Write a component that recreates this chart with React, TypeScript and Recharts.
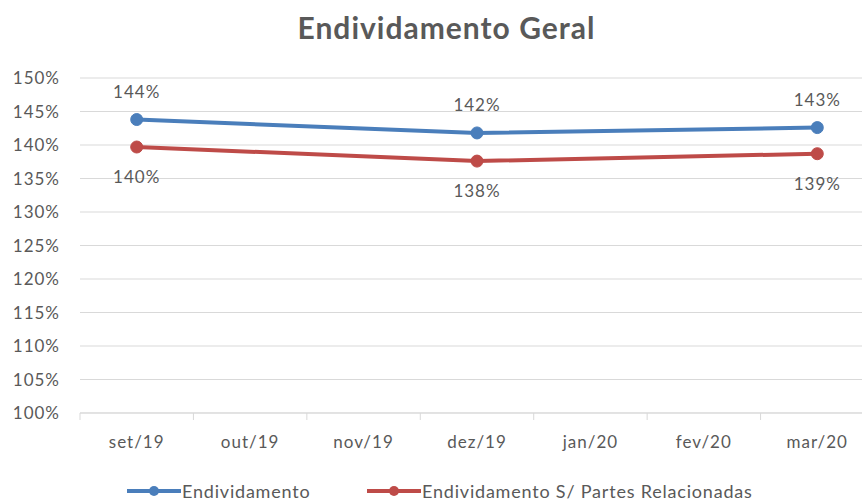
import { LineChart, Line, XAxis, YAxis, CartesianGrid, LabelList } from "recharts";

const months = ["set/19", "out/19", "nov/19", "dez/19", "jan/20", "fev/20", "mar/20"];
const endividamento = [143.8, null, null, 141.8, null, null, 142.6];
const semPartes = [139.7, null, null, 137.6, null, null, 138.7];
const yTicks = [100, 105, 110, 115, 120, 125, 130, 135, 140, 145, 150];

const data = months.map((m, i) => ({
  month: m,
  endividamento: endividamento[i],
  semPartes: semPartes[i],
}));

const BLUE = "#4a7ebb";
const RED = "#be4b48";
const TEXT = "#595959";
const FONT = "Lato, 'Open Sans', sans-serif";

const CHART_W = 874;
const Y_W = 80;
const BAND = (CHART_W - Y_W) / months.length;

const XTick = (props: any) => {
  const { x, y, payload, index } = props;
  return (
    <g>
      <line x1={x - BAND / 2} x2={x - BAND / 2} y1={y - 8} y2={y - 1} stroke="#d9d9d9" />
      {index === months.length - 1 && (
        <line x1={x + BAND / 2} x2={x + BAND / 2} y1={y - 8} y2={y - 1} stroke="#d9d9d9" />
      )}
      <text
        x={x}
        y={y + 27}
        textAnchor="middle"
        fill={TEXT}
        fontSize={17}
        letterSpacing={1}
        fontFamily={FONT}
      >
        {payload.value}
      </text>
    </g>
  );
};

const fmt = (v: any) => (v == null ? "" : Math.round(v) + "%");

const LegendItem = ({ color, label, left }: { color: string; label: string; left: number }) => (
  <div style={{ position: "absolute", left, top: 480, display: "flex", alignItems: "center" }}>
    <svg width={54} height={16}>
      <line x1={0} x2={54} y1={8} y2={8} stroke={color} strokeWidth={4} />
      <circle cx={27} cy={8} r={5} fill={color} />
    </svg>
    <span style={{ color: TEXT, fontSize: 18, letterSpacing: 0.8, marginLeft: 1, fontFamily: FONT }}>
      {label}
    </span>
  </div>
);

export default function App() {
  return (
    <div
      style={{
        position: "absolute",
        left: 0,
        top: 0,
        width: 862,
        height: 504,
        overflow: "hidden",
        background: "#fff",
        fontFamily: FONT,
      }}
    >
      <div
        style={{
          position: "absolute",
          top: 9,
          left: 0,
          width: 893,
          textAlign: "center",
          fontSize: 30,
          letterSpacing: 1,
          fontWeight: 700,
          color: TEXT,
        }}
      >
        Endividamento Geral
      </div>
      <LineChart
        width={CHART_W}
        height={504}
        data={data}
        margin={{ top: 78, right: 0, bottom: 61, left: 0 }}
      >
        <CartesianGrid vertical={false} stroke="#d9d9d9" />
        <XAxis
          dataKey="month"
          axisLine={{ stroke: "#d9d9d9" }}
          tickLine={false}
          tick={<XTick />}
          interval={0}
          padding={{ left: BAND / 2, right: BAND / 2 }}
        />
        <YAxis
          width={Y_W}
          domain={[100, 150]}
          ticks={yTicks}
          tickFormatter={(v) => v + "%"}
          axisLine={false}
          tickLine={false}
          tickMargin={14}
          tick={{ fill: TEXT, fontSize: 17, letterSpacing: 1, fontFamily: FONT }}
        />
        <Line
          dataKey="endividamento"
          stroke={BLUE}
          strokeWidth={4}
          dot={{ r: 6, fill: BLUE, stroke: BLUE, strokeWidth: 1 }}
          connectNulls
          isAnimationActive={false}
        >
          <LabelList
            dataKey="endividamento"
            position="top"
            offset={22}
            formatter={fmt}
            fill={TEXT}
            fontSize={17}
            letterSpacing={1}
            fontFamily={FONT}
          />
        </Line>
        <Line
          dataKey="semPartes"
          stroke={RED}
          strokeWidth={4}
          dot={{ r: 6, fill: RED, stroke: RED, strokeWidth: 1 }}
          connectNulls
          isAnimationActive={false}
        >
          <LabelList
            dataKey="semPartes"
            position="bottom"
            offset={24}
            formatter={fmt}
            fill={TEXT}
            fontSize={17}
            letterSpacing={1}
            fontFamily={FONT}
          />
        </Line>
      </LineChart>
      <LegendItem color={BLUE} label="Endividamento" left={127} />
      <LegendItem color={RED} label="Endividamento S/ Partes Relacionadas" left={367} />
    </div>
  );
}
